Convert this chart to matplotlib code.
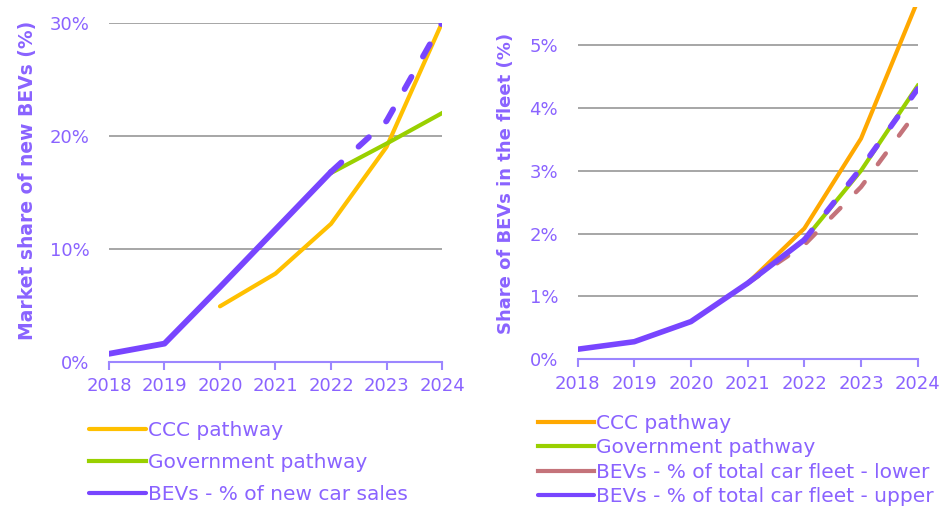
import matplotlib
matplotlib.use('Agg')
import matplotlib.pyplot as plt
from matplotlib.ticker import FuncFormatter

years = [2018, 2019, 2020, 2021, 2022, 2023, 2024]

# left panel: market share of new BEVs (%)
sales_years = [2018, 2019, 2020, 2021, 2022]
sales_actual = [0.7, 1.6, 6.6, 11.7, 16.8]
sales_proj_years = [2022, 2023, 2024]
sales_proj = [16.8, 21.3, 30.0]
ccc_new_years = [2020, 2021, 2022, 2023, 2024]
ccc_new = [4.9, 7.8, 12.2, 19.0, 30.0]
gov_new_years = [2022, 2023, 2024]
gov_new = [16.7, 19.3, 22.0]

# right panel: share of BEVs in the fleet (%)
fleet_years = [2018, 2019, 2020, 2021, 2022]
fleet_actual = [0.16, 0.28, 0.60, 1.21, 1.90]
fleet_proj_years = [2022, 2023, 2024]
fleet_upper = [1.90, 3.04, 4.30]
fleet_lower_years = [2021, 2022, 2023, 2024]
fleet_lower = [1.21, 1.82, 2.74, 3.96]
ccc_fleet_years = [2021, 2022, 2023, 2024]
ccc_fleet = [1.21, 2.08, 3.51, 5.70]
gov_fleet_years = [2021, 2022, 2023, 2024]
gov_fleet = [1.21, 1.90, 3.00, 4.35]

PURPLE = '#7845FF'
TXT = '#8A63FF'
ORANGE_L = '#FFC000'
ORANGE_R = '#FFA800'
GREEN = '#99D000'
PINK = '#C4737A'
GRID = '#A6A6A6'

plt.rcParams['font.family'] = ['DejaVu Sans']

fig = plt.figure(figsize=(9.5, 5.07), dpi=100)
axL = fig.add_axes([0.1147, 0.2866, 0.3506, 0.6686])
axR = fig.add_axes([0.608, 0.2913, 0.358, 0.6947])

def style(ax, ymax, yticks, ylabel, lsize):
    ax.set_xlim(2018, 2024)
    ax.set_ylim(0, ymax)
    ax.set_xticks(years)
    ax.set_yticks(yticks)
    ax.yaxis.set_major_formatter(FuncFormatter(lambda v, p: f'{v:g}%'))
    for s in ['top', 'right', 'left']:
        ax.spines[s].set_visible(False)
    ax.spines['bottom'].set_color('#9C86FF')
    ax.spines['bottom'].set_linewidth(1.5)
    ax.tick_params(axis='x', direction='out', length=6, width=1.5, color='#9C86FF',
                   labelsize=13, labelcolor=TXT, pad=5)
    ax.tick_params(axis='y', length=0, labelsize=13, labelcolor=TXT, pad=14)
    for v in yticks[1:]:
        ax.axhline(v, color=GRID, lw=1.4, zorder=0)
    ax.set_ylabel(ylabel, fontsize=lsize, fontweight='bold', color=TXT)

LEG = dict(loc='upper left', bbox_transform=fig.transFigure, frameon=False, fontsize=14.5,
           labelcolor=TXT, handlelength=2.8, handletextpad=0.1, borderaxespad=0, borderpad=0)

# left
style(axL, 30, [0, 10, 20, 30], 'Market share of new BEVs (%)', 13.5)
axL.yaxis.set_label_coords(-0.215, 0.535)
l1, = axL.plot(ccc_new_years, ccc_new, color=ORANGE_L, lw=3.0, solid_capstyle='round')
l2, = axL.plot(gov_new_years, gov_new, color=GREEN, lw=3.0)
l3, = axL.plot(sales_years, sales_actual, color=PURPLE, lw=4.2, solid_capstyle='round', zorder=4)
axL.plot(sales_proj_years, sales_proj, color=PURPLE, lw=4.2, dashes=(2.4, 4.0),
         dash_capstyle='round', zorder=4)
axL.legend([l1, l2, l3], ['CCC pathway', 'Government pathway', 'BEVs - % of new car sales'],
           bbox_to_anchor=(0.094, 0.170), labelspacing=0.66, **LEG)
for h in axL.get_legend().legend_handles:
    h.set_linewidth(3.0)
    h.set_linestyle('-')

# right
style(axR, 5.6, [0, 1, 2, 3, 4, 5], 'Share of BEVs in the fleet (%)', 13)
axR.yaxis.set_label_coords(-0.185, 0.5)
r1, = axR.plot(ccc_fleet_years, ccc_fleet, color=ORANGE_R, lw=3.0)
r2, = axR.plot(gov_fleet_years, gov_fleet, color=GREEN, lw=3.0)
r3, = axR.plot(fleet_lower_years, fleet_lower, color=PINK, lw=3.2, dashes=(3.0, 5.0),
               dash_capstyle='round')
r4, = axR.plot(fleet_years, fleet_actual, color=PURPLE, lw=4.0, solid_capstyle='round', zorder=4)
axR.plot(fleet_proj_years, fleet_upper, color=PURPLE, lw=4.0, dashes=(2.2, 4.2),
         dash_capstyle='round', zorder=4)
axR.legend([r1, r2, r3, r4],
           ['CCC pathway', 'Government pathway', 'BEVs - % of total car fleet - lower',
            'BEVs - % of total car fleet - upper'],
           bbox_to_anchor=(0.566, 0.184), labelspacing=0.27, **LEG)
for h in axR.get_legend().legend_handles:
    h.set_linestyle('-')
    h.set_linewidth(3.0)

fig.savefig('out.png', dpi=100)
